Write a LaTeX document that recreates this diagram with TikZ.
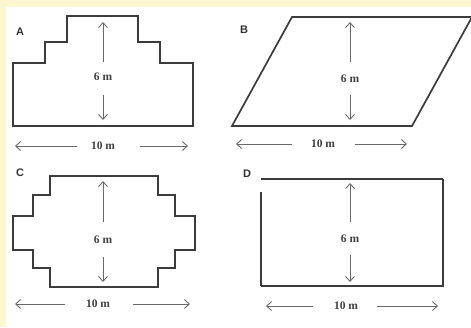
\documentclass[tikz,border=0pt]{standalone}
\usepackage{fontspec}
\setmainfont{Liberation Serif}
\newfontfamily\labfont{Liberation Sans}
\usetikzlibrary{arrows.meta}
\definecolor{bgyellow}{RGB}{252,247,208}
\definecolor{outline}{RGB}{60,60,60}
\definecolor{dimgray}{RGB}{105,105,105}
\tikzset{
  shapeline/.style={draw=outline, line width=1.7pt, line join=miter},
  dimarrow/.style={draw=dimgray, line width=0.9pt, -{Straight Barb[length=5pt,width=9pt,line width=0.9pt]}},
  dimtext/.style={font=\fontsize{11.5}{12}\selectfont\bfseries, text=black!75, inner sep=0pt},
  figlabel/.style={font=\labfont\fontsize{11}{12}\selectfont\bfseries, text=black!80, inner sep=0pt}
}
\begin{document}
\begin{tikzpicture}[x=1pt,y=-1pt]
\useasboundingbox (0,0) rectangle (471,327);
\fill[bgyellow] (0,0) rectangle (471,327);
\fill[white] (6,7) rectangle (471,327);

% ---------- A ----------
\node[figlabel] (labA) at (20,32) {A};
\draw[shapeline] (13,126) -- (13,63) -- (45,63) -- (45,42) -- (67,42) -- (67,16) -- (138,16) -- (138,42) -- (160,42) -- (160,63) -- (193,63) -- (193,126) -- cycle;
\node[dimtext] (A6) at (103,77) {6 m};
\node[dimtext] (A10) at (103,146) {10 m};
\coordinate (Aup0) at (103,62); \coordinate (Aup1) at (103,22);
\coordinate (Adn0) at (103,95); \coordinate (Adn1) at (103,120);
\coordinate (Alf0) at (77,146); \coordinate (Alf1) at (15,146);
\coordinate (Art0) at (140,146); \coordinate (Art1) at (188,146);
\draw[dimarrow] (Aup0) -- (Aup1);
\draw[dimarrow] (Adn0) -- (Adn1);
\draw[dimarrow] (Alf0) -- (Alf1);
\draw[dimarrow] (Art0) -- (Art1);

% ---------- B ----------
\node[figlabel] (labB) at (244,30) {B};
\draw[shapeline] (232,126) -- (292,17) -- (472,17) -- (412,126) -- cycle;
\node[dimtext] (B6) at (350,79) {6 m};
\node[dimtext] (B10) at (323,144) {10 m};
\coordinate (Bup0) at (350,62); \coordinate (Bup1) at (350,22);
\coordinate (Bdn0) at (350,95); \coordinate (Bdn1) at (350,120);
\coordinate (Blf0) at (292,144); \coordinate (Blf1) at (236,144);
\coordinate (Brt0) at (355,144); \coordinate (Brt1) at (407,144);
\draw[dimarrow] (Bup0) -- (Bup1);
\draw[dimarrow] (Bdn0) -- (Bdn1);
\draw[dimarrow] (Blf0) -- (Blf1);
\draw[dimarrow] (Brt0) -- (Brt1);

% ---------- C ----------
\node[figlabel] (labC) at (20,173) {C};
\draw[shapeline] (50,176) -- (158,176) -- (158,195) -- (175,195) -- (175,216) -- (195,216) -- (195,250) -- (175,250) -- (175,268) -- (158,268) -- (158,287) -- (50,287) -- (50,268) -- (33,268) -- (33,250) -- (13,250) -- (13,216) -- (33,216) -- (33,195) -- (50,195) -- cycle;
\node[dimtext] (C6) at (103,240) {6 m};
\node[dimtext] (C10) at (98,304) {10 m};
\coordinate (Cup0) at (103,222); \coordinate (Cup1) at (103,181);
\coordinate (Cdn0) at (103,257); \coordinate (Cdn1) at (103,282);
\coordinate (Clf0) at (65,304); \coordinate (Clf1) at (15,304);
\coordinate (Crt0) at (133,304); \coordinate (Crt1) at (190,304);
\draw[dimarrow] (Cup0) -- (Cup1);
\draw[dimarrow] (Cdn0) -- (Cdn1);
\draw[dimarrow] (Clf0) -- (Clf1);
\draw[dimarrow] (Crt0) -- (Crt1);

% ---------- D ----------
\node[figlabel] (labD) at (247,174) {D};
\draw[shapeline, line width=1.2pt] (261,179) -- (443,179);
\draw[shapeline, line width=1.2pt] (261,192) -- (261,286);
\draw[shapeline, line width=2pt] (443,179) -- (443,286) -- (261,286);
\node[dimtext] (D6) at (350,239) {6 m};
\node[dimtext] (D10) at (346,306) {10 m};
\coordinate (Dup0) at (350,222); \coordinate (Dup1) at (350,183);
\coordinate (Ddn0) at (350,255); \coordinate (Ddn1) at (350,282);
\coordinate (Dlf0) at (313,306); \coordinate (Dlf1) at (266,306);
\coordinate (Drt0) at (377,306); \coordinate (Drt1) at (438,306);
\draw[dimarrow] (Dup0) -- (Dup1);
\draw[dimarrow] (Ddn0) -- (Ddn1);
\draw[dimarrow] (Dlf0) -- (Dlf1);
\draw[dimarrow] (Drt0) -- (Drt1);
\end{tikzpicture}
\end{document}
